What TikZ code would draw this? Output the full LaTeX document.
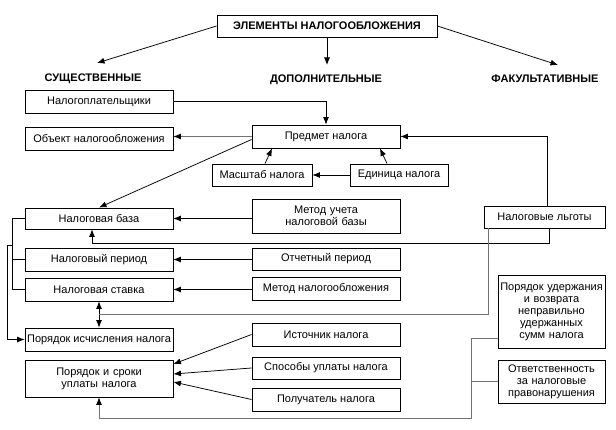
\documentclass[tikz,border=0pt]{standalone}
\usepackage{fontspec}
\setmainfont{Liberation Sans}
\usetikzlibrary{arrows.meta,calc}
\tikzset{
  box/.style={draw=black, line width=0.9pt, inner sep=0.5pt, align=center, font=\fontsize{11}{12}\selectfont},
  cat/.style={font=\fontsize{11}{12}\selectfont\bfseries, inner sep=0pt},
  conn/.style={line width=0.75pt, -{Latex[length=7.5pt,width=6pt]}},
  gconn/.style={line width=0.75pt, draw=black!55, -{Latex[length=7.5pt,width=6pt,color=black]}},
  dconn/.style={line width=0.75pt, {Latex[length=7.5pt,width=6pt]}-{Latex[length=7.5pt,width=6pt]}},
  pline/.style={line width=0.75pt},
  gline/.style={line width=0.75pt, draw=black!55}
}
\begin{document}
\begin{tikzpicture}[x=1pt,y=-1pt]
\useasboundingbox[fill=white] (0,0) rectangle (616,430);
% boxes
\node[box, font=\fontsize{11}{12}\selectfont\bfseries, minimum width=220pt, minimum height=22pt] (top) at (327,26) {ЭЛЕМЕНТЫ НАЛОГООБЛОЖЕНИЯ};
\node[cat] (s1) at (93,79) {СУЩЕСТВЕННЫЕ};
\node[cat] (s2) at (326,80) {ДОПОЛНИТЕЛЬНЫЕ};
\node[cat] (s3) at (545,79) {ФАКУЛЬТАТИВНЫЕ};
\coordinate (c1) at (97,63);
\coordinate (c2) at (327,65);
\coordinate (c3) at (558,65);

\node[box, minimum width=148pt, minimum height=23pt] (np) at (99,101.5) {Налогоплательщики};
\node[box, minimum width=148pt, minimum height=23pt] (obj) at (99,138.5) {Объект налогообложения};
\node[box, minimum width=148pt, minimum height=23pt] (pred) at (326,136.5) {Предмет налога};
\node[box, minimum width=100pt, minimum height=22pt] (masht) at (262,175) {Масштаб налога};
\node[box, minimum width=98pt, minimum height=22pt] (edin) at (399,175) {Единица налога};
\node[box, minimum width=148pt, minimum height=21pt] (baza) at (99,218.5) {Налоговая база};
\node[box, minimum width=148pt, minimum height=34pt, text width=144pt] (metu) at (326,216) {Метод учета\\налоговой базы};
\node[box, minimum width=121pt, minimum height=22pt] (lgoty) at (544.5,217) {Налоговые льготы};
\node[box, minimum width=148pt, minimum height=23pt] (per) at (99,259.5) {Налоговый период};
\node[box, minimum width=148pt, minimum height=22pt] (otch) at (326,259) {Отчетный период};
\node[box, minimum width=148pt, minimum height=23pt] (stav) at (99,289.5) {Налоговая ставка};
\node[box, minimum width=148pt, minimum height=23pt] (metn) at (326,288.5) {Метод налогообложения};
\node[box, minimum width=148pt, minimum height=23pt] (isch) at (99,339.5) {Порядок исчисления налога};
\node[box, minimum width=148pt, minimum height=37pt, text width=144pt] (srok) at (99,378.5) {Порядок и сроки\\уплаты налога};
\node[box, minimum width=148pt, minimum height=23pt] (ist) at (326,334.5) {Источник налога};
\node[box, minimum width=148pt, minimum height=22pt] (spos) at (326,368) {Способы уплаты налога};
\node[box, minimum width=148pt, minimum height=23pt] (pol) at (326,399.5) {Получатель налога};
\node[box, minimum width=107pt, minimum height=73pt, text width=106pt] (uder) at (551.5,311.5) {Порядок удержания\\и возврата\\неправильно\\удержанных\\сумм налога};
\node[box, minimum width=107pt, minimum height=43pt, text width=106pt] (otv) at (551.5,381.5) {Ответственность\\за налоговые\\правонарушения};

% top arrows
\draw[conn] (top.west) -- (c1);
\draw[conn] (top.south) -- (c2);
\draw[conn] (top.east) -- (c3);

% predmet group
\draw[conn] (np.east) -| (pred.north);
\draw[gconn] (pred.west) -- (pred.west -| obj.east);
\draw[conn] ([yshift=-3pt]pred.west) -- (baza.north);
\draw[conn] ([xshift=3pt]masht.north) -- ([xshift=-54pt]pred.south);
\draw[conn] (edin.west) -- (masht.east);
\draw[conn] ([xshift=-12pt]edin.north) -- ([xshift=54pt]pred.south);
\draw[conn] ([xshift=3pt]lgoty.north) |- (pred.east);

% rows
\draw[conn] (metu.west |- baza.east) -- (baza.east);
\draw[conn] ([xshift=5pt]lgoty.south) -- ++(0,15) -| ([xshift=-7pt]baza.south);
\draw[conn] (otch.west |- per.east) -- (per.east);
\draw[conn] (metn.west |- stav.east) -- (stav.east);

% left bracket
\coordinate (brk) at (13,245);
\draw[pline] (baza.west) -- ++(-12,0) |- (stav.west);
\draw[pline] (per.west) -- ++(-12,0);
\draw[conn] (brk) -- ++(-6,0) |- (isch.west);

% stavka <-> ischislenie
\draw[dconn] (stav.south) -- (isch.north);
\draw[gline] ($(stav.south)!0.5!(isch.north)$) -| ([xshift=-56.5pt]lgoty.south);

% payment
\draw[conn] (ist.west) -- ([yshift=14.5pt]srok.east);
\draw[conn] (spos.west) -- ([yshift=4.5pt]srok.east);
\draw[conn] (pol.west) -- ([yshift=-3.5pt]srok.east);
\draw[gconn] ([yshift=10pt]uder.south west) -- ++(-26,0) -- ++(0,80) -| (srok.south);
\draw[gline] (otv.west) -- ++(-26,0);
\end{tikzpicture}
\end{document}
